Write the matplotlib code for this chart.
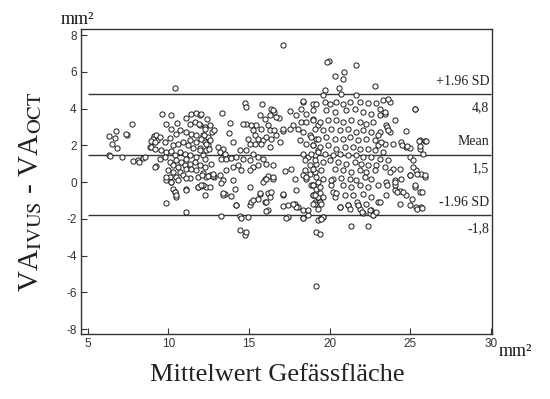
"""Bland-Altman plot: IVUS vs OCT vessel area (VA)."""
import numpy as np
import matplotlib
matplotlib.use("Agg")
import matplotlib.pyplot as plt

plt.rcParams["axes.unicode_minus"] = False

# ─────────────── data (mean area, difference IVUS-OCT), mm² ───────────────
# left group, x < 9.3
x_left = [6.3, 6.7, 6.5, 6.8, 6.3, 6.35, 7.1, 7.45, 7.75, 6.75, 7.35, 7.8, 8.1,
          8.4, 8.2, 8.55, 8.85, 9.0, 9.2, 9.3, 9.1, 8.95, 9.16]
y_left = [2.5, 2.4, 2.1, 1.85, 1.5, 1.4, 1.35, 2.55, 3.15, 2.8, 2.6, 1.15, 1.2,
          1.3, 1.1, 1.35, 1.9, 2.25, 0.85, 2.3, 2.5, 1.91, 1.82]

# dense cluster around 9.5 - 12.5
x_c1 = [9.6, 10.18, 11.11, 11.42, 11.73, 11.94, 11.32, 11.63, 11.98, 12.25, 9.87,
        10.18, 10.53, 10.7, 10.49, 11.11, 11.42, 11.69, 12.14, 12.45, 9.25, 9.46,
        9.05, 8.94, 9.15, 9.77, 10.08, 10.29, 10.6, 10.91, 11.32, 11.73, 12.25,
        12.45, 11.22, 11.53, 11.94, 12.35, 9.56, 9.87, 10.18, 10.39, 10.7, 11.01,
        11.32, 11.73, 12.14, 9.46, 9.77, 10.08, 10.49, 10.8, 11.11, 10.29, 10.6,
        11.01, 11.32, 11.63, 11.94, 12.25, 9.15, 9.98, 10.29, 10.7, 11.11, 11.42,
        11.73, 12.14, 10.08, 10.49, 10.91, 11.32, 11.84, 12.35, 9.87, 10.18, 10.6,
        11.11, 10.29, 10.39, 10.49, 11.11, 11.84, 12.04, 12.31, 9.83, 11.07, 12.56,
        10.4, 9.88, 10.19, 10.4, 10.5, 11.12, 11.84, 12.15]
y_c1 = [3.73, 3.64, 3.49, 3.73, 3.78, 3.67, 3.18, 3.28, 3.13, 3.0, 3.18,
        2.91, 3.24, 2.82, 2.64, 2.73, 2.64, 2.55, 2.59, 2.46, 2.59, 2.46,
        2.33, 2.22, 2.19, 2.19, 2.41, 2.01, 2.1, 2.19, 2.28, 2.19, 2.19,
        2.01, 2.01, 1.83, 1.86, 1.74, 1.74, 1.64, 1.68, 1.46, 1.64, 1.55,
        1.46, 1.37, 1.46, 1.28, 1.37, 1.1, 1.19, 1.1, 1.28, 0.92, 0.83,
        0.92, 1.01, 1.1, 0.92, 0.83, 0.83, 0.65, 0.56, 0.56, 0.74, 0.74,
        0.65, 0.47, 0.29, 0.29, 0.38, 0.2, 0.29, 0.29, 0.1, 0.01, 0.1,
        0.2, -0.35, -0.53, -0.8, -0.4, -0.26, -0.2, -0.26, -1.16, -1.62, 0.38,
        5.14, 0.28, 0.01, -0.53, -0.72, -0.44, -0.26, -0.17]

# 12 - 18
x_c2 = [12.05, 12.4, 11.9, 12.55, 12.3, 12.7, 12.2, 12.0, 12.6, 12.35,
        11.95, 12.5, 12.25, 12.65, 12.1, 12.45, 12.8, 12.0, 12.55, 12.3,
        13.35, 13.81, 13.77, 12.82, 14.02, 14.74, 14.84, 15.83, 16.39, 16.54,
        16.33, 16.85, 17.57, 15.67, 15.98, 16.19, 16.29, 15.77, 15.46, 15.15,
        14.84, 14.64, 15.26, 15.36, 15.57, 15.88, 16.08, 16.39, 16.7, 17.12,
        16.54, 16.91, 16.29, 15.77, 15.36, 15.05, 14.95, 14.43, 14.84, 15.26,
        15.57, 15.88, 13.09, 13.4, 13.19, 13.5, 13.29, 13.6, 13.91, 14.22,
        14.64, 14.33, 14.02, 15.05, 15.26, 15.57, 16.08, 16.5, 17.22, 17.63,
        16.19, 15.98, 16.5, 15.05, 14.53, 13.6, 13.19, 12.78, 13.4, 13.29,
        14.02, 14.12, 13.5, 13.91, 13.4, 15.05, 15.67, 16.19, 16.29, 15.57,
        15.98, 17.12, 17.94, 17.84, 18.05, 17.12, 18.36, 16.19, 14.22, 15.05,
        13.29, 14.43, 14.95, 18.36, 14.43, 14.74, 14.84, 17.43, 14.53, 12.78,
        13.4, 14.22, 15.15, 15.26, 15.67, 15.88, 16.08, 16.39, 16.08, 16.08]
y_c2 = [3.72, 3.45, 3.18, 3.09, 2.91, 2.73, 2.54, 2.36, 2.27, 2.09,
        1.73, 1.82, 1.28, 1.0, 0.37, 0.33, 0.28, -0.17, -0.26, -0.72,
        3.78, 3.21, 2.69, 2.83, 2.18, 4.32, 4.08, 4.23, 3.96, 3.81,
        3.63, 3.49, 3.88, 3.63, 3.45, 3.09, 2.82, 2.91, 3.09, 3.12,
        3.18, 3.14, 2.82, 2.54, 2.36, 2.27, 2.45, 2.36, 2.54, 2.76,
        2.82, 2.18, 1.91, 2.09, 2.09, 2.09, 2.36, 1.73, 1.73, 1.55,
        1.37, 1.28, 1.91, 1.82, 1.64, 1.55, 1.28, 1.24, 1.31, 1.37,
        1.28, 0.91, 0.82, 1.19, 0.82, 0.91, 1.0, 0.91, 0.59, 0.73,
        0.33, 0.15, 0.19, 0.64, 0.64, 0.64, 0.37, 0.33, 0.1, -0.05,
        0.1, -0.35, -0.63, -0.75, -0.72, -0.26, -0.63, -0.57, -0.81, -0.9,
        -1.08, -0.72, -0.45, -1.17, -1.35, -1.3, -1.53, -1.53, -1.26, -1.26,
        -1.86, -1.86, -1.91, -1.95, -2.62, -2.89, -2.71, -1.89, -1.95, 0.46,
        -0.62, -1.26, -1.08, -0.99, -0.62, 0.01, 0.19, -0.53, -1.08, -1.58]

# 17 - 19.5
x_c3 = [18.36, 18.97, 18.25, 18.56, 18.97, 17.94, 18.25, 18.56, 18.97, 19.28,
        18.05, 18.36, 18.77, 19.18, 18.15, 18.56, 18.97, 19.28, 18.36, 18.67,
        19.08, 18.46, 18.77, 19.18, 18.46, 18.77, 19.08, 18.56, 18.87, 19.18,
        18.97, 19.08, 19.28, 18.67, 19.28, 19.18, 17.08, 19.97, 19.85, 18.32,
        17.74, 17.53, 17.12, 16.46, 16.7, 16.5, 17.12, 17.43, 17.94, 18.36,
        17.32, 17.74, 18.67, 19.08, 19.39, 19.49, 19.6, 18.98, 19.29, 19.39,
        17.84, 18.36, 18.56, 18.98, 19.29, 19.39, 19.14]
y_c3 = [4.36, 4.26, 3.99, 3.72, 3.9, 3.63, 3.27, 3.27, 3.45, 3.09,
        2.91, 2.73, 2.54, 2.36, 2.27, 2.09, 2.0, 1.73, 1.55, 1.37,
        1.46, 1.19, 0.91, 1.0, 0.64, 0.46, 0.55, 0.19, -0.17, -0.35,
        -0.72, -1.08, -1.44, -1.8, -2.08, -2.71, 7.49, 6.62, 6.53, 4.39,
        3.09, 2.91, 2.91, 3.9, 3.54, 0.28, -0.63, -1.26, -1.35, -1.98,
        -1.98, -1.17, -1.53, -1.17, -1.08, -1.98, -1.89, -0.72, -0.81, -0.62,
        0.19, 0.37, 0.28, -0.17, 0.01, -2.8, -5.64]

# 19 - 26, upper part
x_c4 = [19.6, 20.73, 21.66, 19.18, 19.7, 20.01, 20.42, 20.84, 21.25, 21.87,
        22.39, 22.9, 23.32, 23.73, 25.28, 23.11, 23.42, 19.8, 20.32, 21.04,
        21.56, 22.08, 22.59, 24.04, 23.52, 23.11, 23.73, 24.76, 25.59, 25.9,
        24.45, 24.76, 24.97, 25.59, 25.8, 24.97, 25.17, 23.94, 23.42, 23.01,
        21.63, 20.32, 20.88, 20.8, 20.59, 22.8, 19.7, 25.29, 23.53, 23.63,
        24.46, 24.77, 25.6, 25.97, 25.55, 23.11, 23.42, 23.63]
y_c4 = [4.72, 4.81, 4.72, 4.26, 4.36, 4.26, 4.36, 4.26, 4.36, 4.36,
        4.32, 4.32, 4.45, 4.36, 3.96, 3.63, 3.72, 3.9, 3.81, 3.9,
        3.99, 3.81, 3.72, 3.36, 3.09, 2.73, 2.73, 2.76, 2.27, 2.24,
        2.18, 1.91, 1.86, 1.82, 1.55, 1.37, 1.19, 2.09, 2.09, 2.0,
        6.39, 5.77, 6.02, 5.62, 5.12, 5.26, 5.03, 4.0, 3.0, 2.82,
        2.0, 1.97, 1.97, 2.22, 2.22, 4.0, 3.81, 4.5]

# 19 - 26, dense core
x_c5 = [18.98, 19.39, 19.91, 20.42, 20.84, 21.35, 21.87, 22.28, 22.7,
        19.08, 19.6, 20.11, 20.63, 21.15, 21.66, 22.08, 22.59, 23.01,
        18.87, 19.29, 19.8, 20.32, 20.84, 21.25, 21.77, 22.28, 22.8, 23.21,
        18.98, 19.39, 19.91, 20.42, 20.94, 21.46, 21.87, 22.39, 22.8, 23.32,
        18.87, 19.29, 19.7, 20.22, 20.63, 21.15, 21.66, 22.08, 22.59, 23.11, 23.63,
        19.08, 19.6, 20.01, 20.53, 21.04, 21.56, 21.97, 22.39, 22.9, 23.42, 23.94,
        18.98, 19.49, 20.32, 20.84, 21.35, 21.87, 22.28, 22.8, 23.73, 24.35,
        19.18, 19.6, 20.22, 20.73, 21.25, 21.66, 22.18, 22.59, 23.52, 24.04, 24.45,
        18.98, 19.39, 20.11, 20.84, 21.35, 21.87, 22.39, 23.01, 24.04, 24.35, 25.28,
        19.08, 19.6, 20.32, 20.94, 21.46, 22.08, 22.59, 23.52, 24.76, 25.59,
        18.98, 19.49, 20.63, 21.15, 21.77, 22.28, 23.01, 24.35, 24.97, 25.38, 25.69]
y_c5 = [3.36, 3.27, 3.36, 3.36, 3.27, 3.36, 3.27, 3.18, 3.27,
        2.91, 2.82, 2.91, 2.82, 2.91, 2.73, 2.82, 2.73, 2.54,
        2.45, 2.36, 2.45, 2.36, 2.36, 2.45, 2.27, 2.36, 2.27, 2.18,
        2.0, 1.91, 2.0, 1.82, 1.91, 1.91, 1.82, 1.82, 1.73, 1.64,
        1.55, 1.64, 1.55, 1.46, 1.55, 1.46, 1.46, 1.37, 1.37, 1.28, 1.19,
        1.19, 1.09, 1.19, 1.09, 1.0, 1.09, 1.0, 0.91, 0.91, 0.82, 0.73,
        0.73, 0.64, 0.73, 0.64, 0.55, 0.64, 0.55, 0.64, 0.55, 0.73,
        0.28, 0.19, 0.19, 0.22, 0.19, 0.1, 0.28, 0.19, 0.01, 0.1, 0.19,
        -0.17, -0.26, -0.17, -0.17, -0.26, -0.17, -0.26, -0.17, -0.45, -0.5, -0.26,
        -0.72, -0.81, -0.81, -0.72, -0.72, -0.63, -0.81, -0.72, -0.72, -0.54,
        -1.17, -1.17, -1.35, -1.26, -1.26, -1.17, -1.08, -1.17, -1.26, -1.35, -1.35]

# 19 - 26, lower part
x_c6 = [22.59, 22.08, 22.7, 21.87, 19.6, 19.49, 21.35, 22.39, 24.97, 25.38,
        25.69, 25.9, 25.17, 24.04, 25.39, 25.7, 20.11, 20.22, 20.42, 20.63,
        21.15, 21.25, 21.67, 21.77, 21.98, 22.49, 22.7, 22.9, 23.11, 22.49,
        23.53, 24.04, 24.15, 24.56, 24.97, 25.39, 25.9, 25.28, 25.7, 25.08]
y_c6 = [-1.53, -1.71, -1.77, -1.44, -1.89, -2.02, -2.38, -2.38, 0.37, 0.64,
        0.46, 0.28, 0.82, -0.14, -1.44, -1.4, 0.1, -0.53, -0.62, -1.35,
        -1.26, -1.44, -1.08, -1.26, -1.62, -1.71, -1.8, -1.62, -1.08, -1.53,
        -0.17, 0.01, -0.53, -0.53, 0.37, 0.46, 0.41, -0.17, -0.53, -0.9]

# limits of agreement
loa_vals = [4.8, 1.5, -1.8]
loa_names = ["+1.96 SD", "Mean", "-1.96 SD"]
loa_text = ["4,8", "1,5", "-1,8"]

y_ticks = [-8, -6, -4, -2, 0, 2, 4, 6, 8]
x_ticks = [5, 10, 15, 20, 25, 30]

SERIF = "Liberation Serif"
SANS = "Liberation Sans"

x_all = np.array(x_left + x_c1 + x_c2 + x_c3 + x_c4 + x_c5 + x_c6)
y_all = np.array(y_left + y_c1 + y_c2 + y_c3 + y_c4 + y_c5 + y_c6)

fig = plt.figure(figsize=(5.5, 3.99), dpi=100)
ax = fig.add_axes([0.147, 0.163, 0.747, 0.764])

ax.scatter(x_all, y_all, s=14, facecolors="white", edgecolors="#1a1a1a",
           linewidths=0.7, zorder=3)

for v, name, txt in zip(loa_vals, loa_names, loa_text):
    ax.hlines(v, 5, 30, color="#333333", lw=1.0, zorder=2)
    ax.text(29.9, v + 0.35, name, ha="right", va="bottom",
            family=SERIF, fontsize=10, color="#222222")
    ax.text(29.9, v - 0.4, txt, ha="right", va="top",
            family=SERIF, fontsize=10, color="#222222")

ax.set_xlim(4.57, 30.05)
ax.set_ylim(-8.27, 8.33)
ax.set_xticks(x_ticks)
ax.set_yticks(y_ticks)
ax.tick_params(direction="in", length=4, width=0.8, colors="#333333",
               labelsize=8.5, pad=3)
for lab in ax.get_xticklabels() + ax.get_yticklabels():
    lab.set_family(SANS)
for sp in ax.spines.values():
    sp.set_color("#333333")
    sp.set_linewidth(1.0)

fig.text(0.11, 0.952, "mm²", family=SERIF, fontsize=13, ha="left", va="center",
         color="#111111")
fig.text(0.907, 0.118, "mm²", family=SERIF, fontsize=13, ha="left", va="center",
         color="#111111")
fig.text(0.505, 0.06, "Mittelwert Gefässfläche", family=SERIF, fontsize=19,
         ha="center", va="center", color="#222222")
fig.text(0.055, 0.52, r"VA$_{\mathrm{IVUS}}$ - VA$_{\mathrm{OCT}}$", family=SERIF,
         fontsize=21, rotation=90, ha="center", va="center", color="#222222",
         math_fontfamily="stix")

fig.savefig("out.png", dpi=100)
